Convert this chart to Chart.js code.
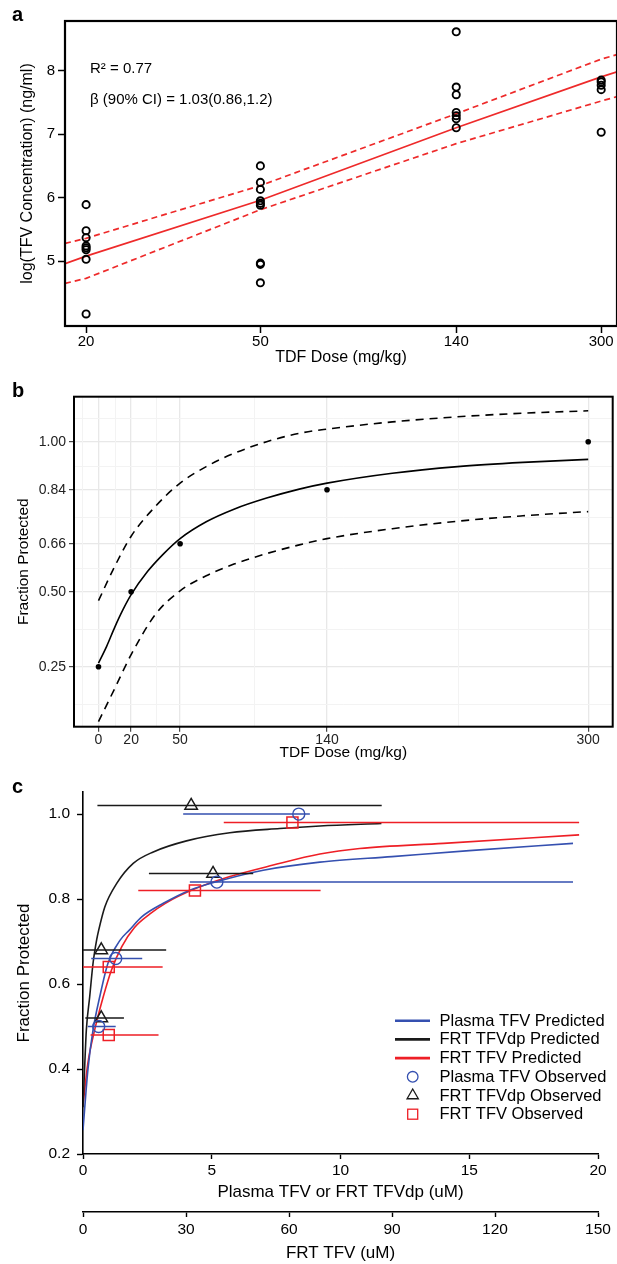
<!DOCTYPE html>
<html>
<head>
<meta charset="utf-8">
<script src="https://cdn.jsdelivr.net/npm/chart.js@4.4.1/dist/chart.umd.min.js"></script>
<style>
  html, body { margin: 0; padding: 0; background: #fff; overflow: hidden; }
  body { width: 617px; height: 1264px; position: relative; font-family: "Liberation Sans", Arial, sans-serif; }
  canvas { position: absolute; left: 0; }
  .letter { position: absolute; left: 12px; font-weight: bold; font-size: 20px; color: #000; }
  .note { position: absolute; left: 90px; font-size: 15px; line-height: 18px; color: #000; white-space: nowrap; }
</style>
</head>
<body>
<canvas id="chartA" width="640" height="370" style="top:0"></canvas>
<canvas id="chartB" width="617" height="400" style="top:370px"></canvas>
<canvas id="chartC" width="617" height="504" style="top:760px"></canvas>
<div class="letter" style="top:3px">a</div>
<div class="letter" style="top:379px">b</div>
<div class="letter" style="top:775px">c</div>
<div class="note" style="top:59px">R² = 0.77</div>
<div class="note" style="top:90px">β (90% CI) = 1.03(0.86,1.2)</div>
<script>
const FONT = '"Liberation Sans", Arial, Helvetica, sans-serif';

// ---- panel a: TFV concentration vs dose ----
const doseGroups = [20, 50, 140, 300];
const conc20 = [5.89, 5.48, 5.37, 5.24, 5.21, 5.18, 5.03, 4.17];
const conc50 = [6.50, 6.24, 6.13, 5.95, 5.91, 5.88, 4.97, 4.95, 4.66];
const conc140 = [8.61, 7.74, 7.62, 7.34, 7.29, 7.24, 7.10];
const conc300 = [7.85, 7.82, 7.77, 7.70, 7.03];
const fitDoseA = [17.9, 20, 50, 140, 300, 326];
const fitMidA = [4.96, 5.08, 5.96, 7.10, 7.90, 7.98];
const fitUpperA = [5.28, 5.36, 6.19, 7.32, 8.18, 8.25];
const fitLowerA = [4.65, 4.73, 5.81, 6.85, 7.52, 7.59];
const xTicksA = [20, 50, 140, 300];
const yTicksA = [5, 6, 7, 8];

// ---- panel b: fraction protected vs dose ----
const doseObsB = [0, 20, 50, 140, 300];
const protObsB = [0.25, 0.50, 0.66, 0.84, 1.00];
const doseFitB = [0, 5, 10, 15, 20, 30, 40, 50, 66, 83, 103, 123, 140, 180, 220, 260, 300];
const protFitB = [0.262, 0.318, 0.382, 0.44, 0.49, 0.567, 0.627, 0.677, 0.733, 0.775, 0.812, 0.842, 0.862, 0.895, 0.917, 0.931, 0.941];
const doseCiB = [0, 10, 20, 35, 50, 66, 83, 103, 123, 140, 180, 220, 260, 300];
const protUpperB = [0.47, 0.585, 0.685, 0.785, 0.862, 0.917, 0.961, 1.0, 1.028, 1.042, 1.066, 1.083, 1.095, 1.103];
const protLowerB = [0.067, 0.178, 0.29, 0.425, 0.503, 0.553, 0.592, 0.627, 0.656, 0.677, 0.71, 0.735, 0.753, 0.767];
const xTicksB = [0, 20, 50, 140, 300];
const yTicksB = [0.25, 0.50, 0.66, 0.84, 1.00];
const xMinorB = [-10, 10, 35, 95, 220];
const yMinorB = [0.125, 0.375, 0.58, 0.75, 0.92, 1.08];

// ---- panel c: fraction protected vs concentration ----
const plasmaFitX = [0, 0.19, 0.39, 0.65, 0.97, 1.45, 1.8, 2.28, 3.12, 4.15, 5.19, 7.0, 9.2, 12, 15, 19.03];
const plasmaFitY = [0.256, 0.398, 0.492, 0.57, 0.649, 0.704, 0.727, 0.758, 0.79, 0.821, 0.841, 0.868, 0.887, 0.9, 0.914, 0.931];
const dpFitX = [0, 0.07, 0.13, 0.26, 0.39, 0.53, 0.61, 0.85, 1.31, 1.95, 2.73, 4.02, 5.7, 7.64, 9.2, 11.59];
const dpFitY = [0.31, 0.413, 0.492, 0.57, 0.649, 0.704, 0.727, 0.782, 0.837, 0.884, 0.911, 0.937, 0.956, 0.966, 0.972, 0.978];
const frtFitX = [0, 1.4, 3.4, 5.9, 8.3, 11.3, 15, 19.5, 24, 32.6, 42.8, 55.4, 69, 80.6, 105, 144.5];
const frtFitY = [0.315, 0.413, 0.492, 0.57, 0.633, 0.688, 0.733, 0.765, 0.79, 0.824, 0.853, 0.88, 0.906, 0.919, 0.931, 0.951];

const plasmaObsX = [8.38, 5.2, 1.27, 0.61];
const plasmaObsY = [1.0, 0.84, 0.66, 0.50];
const plasmaLo = [3.89, 4.15, 0.32, 0.19];
const plasmaHi = [8.81, 19.03, 2.3, 1.27];
const dpObsX = [4.2, 5.05, 0.71, 0.71];
const dpObsY = [1.02, 0.86, 0.68, 0.52];
const dpLo = [0.56, 2.56, 0.0, 0.09];
const dpHi = [11.6, 6.61, 3.23, 1.59];
const frtObsX = [61, 32.6, 7.5, 7.5];
const frtObsY = [0.98, 0.82, 0.64, 0.48];
const frtLo = [41, 16.1, 0, 2.2];
const frtHi = [144.5, 69.2, 23.2, 22.0];

const xTicksC = [0, 5, 10, 15, 20];
const x2TicksC = [0, 30, 60, 90, 120, 150];
const yTicksC = [0.2, 0.4, 0.6, 0.8, 1.0];
const legendLabelsC = ['Plasma TFV Predicted', 'FRT TFVdp Predicted', 'FRT TFV Predicted',
  'Plasma TFV Observed', 'FRT TFVdp Observed', 'FRT TFV Observed'];

const BLUE = '#3550b0';
const RED = '#ee1f26';
const DARK = '#1a1a1a';
const RED_A = '#ee2a2a';

function zip(xs, ys) {
  return xs.map((x, i) => ({ x: x, y: ys[i] }));
}

function barSegments(lo, hi, ys) {
  const pts = [];
  ys.forEach((y, i) => {
    pts.push({ x: lo[i], y: y }, { x: hi[i], y: y }, { x: hi[i], y: null });
  });
  return pts;
}

function fixedTicks(values) {
  return (scale) => { scale.ticks = values.map((v) => ({ value: v })); };
}

const boxPlugin = {
  id: 'box',
  afterDraw(chart, args, opts) {
    const { left, top, right, bottom } = chart.chartArea;
    const ctx = chart.ctx;
    ctx.save();
    ctx.strokeStyle = opts.color || '#000';
    ctx.lineWidth = opts.width || 2;
    ctx.strokeRect(left, top, right - left, bottom - top);
    ctx.restore();
  },
};

const minorGrid = {
  id: 'minorGrid',
  beforeDatasetsDraw(chart) {
    const { left, top, right, bottom } = chart.chartArea;
    const ctx = chart.ctx;
    const sx = chart.scales.x;
    const sy = chart.scales.y;
    ctx.save();
    ctx.strokeStyle = '#f3f3f3';
    ctx.lineWidth = 1;
    xMinorB.forEach((v) => {
      const px = Math.round(sx.getPixelForValue(v)) + 0.5;
      ctx.beginPath(); ctx.moveTo(px, top); ctx.lineTo(px, bottom); ctx.stroke();
    });
    yMinorB.forEach((v) => {
      const py = Math.round(sy.getPixelForValue(v)) + 0.5;
      ctx.beginPath(); ctx.moveTo(left, py); ctx.lineTo(right, py); ctx.stroke();
    });
    ctx.restore();
  },
};

const legendC = {
  id: 'legendC',
  afterDraw(chart) {
    const ctx = chart.ctx;
    const lineX0 = 395, lineX1 = 430, markX = 412.7, textX = 439.5;
    const y0 = 260.7, step = 18.7;
    ctx.save();
    ctx.font = '16.5px ' + FONT;
    ctx.textBaseline = 'middle';
    ctx.textAlign = 'left';
    const lineColors = [BLUE, DARK, RED];
    legendLabelsC.forEach((label, i) => {
      const y = y0 + i * step;
      if (i < 3) {
        ctx.strokeStyle = lineColors[i];
        ctx.lineWidth = 2.6;
        ctx.beginPath(); ctx.moveTo(lineX0, y); ctx.lineTo(lineX1, y); ctx.stroke();
      } else if (i === 3) {
        ctx.strokeStyle = BLUE; ctx.lineWidth = 1.3;
        ctx.beginPath(); ctx.arc(markX, y, 5.3, 0, Math.PI * 2); ctx.stroke();
      } else if (i === 4) {
        ctx.strokeStyle = DARK; ctx.lineWidth = 1.3;
        const r = 6.5;
        ctx.beginPath();
        ctx.moveTo(markX, y - r);
        ctx.lineTo(markX + r * 0.866, y + r * 0.5);
        ctx.lineTo(markX - r * 0.866, y + r * 0.5);
        ctx.closePath(); ctx.stroke();
      } else {
        ctx.strokeStyle = RED; ctx.lineWidth = 1.3;
        ctx.strokeRect(markX - 5, y - 5, 10, 10);
      }
      ctx.fillStyle = '#000';
      ctx.fillText(label, textX, y + 0.5);
    });
    ctx.restore();
  },
};

const baseOpts = {
  responsive: false,
  animation: false,
  events: [],
};

// ---------------- chart a ----------------
const scatterA = [];
[conc20, conc50, conc140, conc300].forEach((group, i) => {
  group.forEach((c) => scatterA.push({ x: doseGroups[i], y: c }));
});

new Chart(document.getElementById('chartA'), {
  type: 'scatter',
  data: {
    datasets: [
      {
        data: scatterA, pointStyle: 'circle', pointRadius: 3.6, borderWidth: 1.9,
        borderColor: '#000', backgroundColor: 'rgba(0,0,0,0)', order: 0,
      },
      {
        data: zip(fitDoseA, fitMidA), showLine: true, pointRadius: 0,
        borderColor: RED_A, borderWidth: 1.7, order: 1,
      },
      {
        data: zip(fitDoseA, fitUpperA), showLine: true, pointRadius: 0,
        borderColor: RED_A, borderWidth: 1.7, borderDash: [6, 4], order: 2,
      },
      {
        data: zip(fitDoseA, fitLowerA), showLine: true, pointRadius: 0,
        borderColor: RED_A, borderWidth: 1.7, borderDash: [6, 4], order: 3,
      },
    ],
  },
  options: {
    ...baseOpts,
    layout: { padding: { top: 21, right: 23, bottom: 0, left: 0 } },
    plugins: { legend: { display: false }, tooltip: { enabled: false }, box: { width: 2.2 } },
    scales: {
      x: {
        type: 'logarithmic', min: 17.9, max: 326,
        afterBuildTicks: fixedTicks(xTicksA),
        afterFit: (s) => { s.height = 44; },
        ticks: { color: '#000', font: { family: FONT, size: 15 }, padding: 0, maxRotation: 0, autoSkip: false, callback: (v) => String(v) },
        grid: { display: true, drawOnChartArea: false, drawTicks: true, tickLength: 7, tickColor: '#000', tickWidth: 1.5 },
        border: { display: false },
        title: { display: true, text: 'TDF Dose (mg/kg)', color: '#000', font: { family: FONT, size: 16 }, padding: { top: 0, bottom: 3 } },
      },
      y: {
        type: 'linear', min: 3.98, max: 8.78,
        afterBuildTicks: fixedTicks(yTicksA),
        afterFit: (s) => { s.width = 65; },
        ticks: { color: '#000', font: { family: FONT, size: 15 }, padding: 3, callback: (v) => String(v) },
        grid: { display: true, drawOnChartArea: false, drawTicks: true, tickLength: 7, tickColor: '#000', tickWidth: 1.5 },
        border: { display: false },
        title: { display: true, text: 'log(TFV Concentration) (ng/ml)', color: '#000', font: { family: FONT, size: 16 }, padding: { top: 18, bottom: 0 } },
      },
    },
  },
  plugins: [boxPlugin],
});

// ---------------- chart b ----------------
new Chart(document.getElementById('chartB'), {
  type: 'scatter',
  data: {
    datasets: [
      {
        data: zip(doseObsB, protObsB), pointStyle: 'circle', pointRadius: 2.8,
        backgroundColor: '#000', borderColor: '#000', borderWidth: 0, order: 0,
      },
      {
        data: zip(doseFitB, protFitB), showLine: true, pointRadius: 0,
        borderColor: '#000', borderWidth: 1.6, cubicInterpolationMode: 'monotone', order: 1,
      },
      {
        data: zip(doseCiB, protUpperB), showLine: true, pointRadius: 0,
        borderColor: '#000', borderWidth: 1.6, borderDash: [8, 6], cubicInterpolationMode: 'monotone', order: 2,
      },
      {
        data: zip(doseCiB, protLowerB), showLine: true, pointRadius: 0,
        borderColor: '#000', borderWidth: 1.6, borderDash: [8, 6], cubicInterpolationMode: 'monotone', order: 3,
      },
    ],
  },
  options: {
    ...baseOpts,
    layout: { padding: { top: 26.7, right: 4.3, bottom: 0, left: 0 } },
    plugins: { legend: { display: false }, tooltip: { enabled: false }, box: { width: 2 } },
    scales: {
      x: {
        type: 'linear', min: -15, max: 315,
        afterBuildTicks: fixedTicks(xTicksB),
        afterFit: (s) => { s.height = 43.3; },
        ticks: { color: '#222', font: { family: FONT, size: 14 }, padding: 0, maxRotation: 0, autoSkip: false, callback: (v) => String(v) },
        grid: { display: true, drawOnChartArea: true, color: '#e8e8e8', lineWidth: 1.3, drawTicks: true, tickLength: 5, tickColor: '#333', tickWidth: 1.1 },
        border: { display: false },
        title: { display: true, text: 'TDF Dose (mg/kg)', color: '#000', font: { family: FONT, size: 15.5 }, padding: { top: 0, bottom: 8 } },
      },
      y: {
        type: 'linear', min: 0.05, max: 1.15,
        afterBuildTicks: fixedTicks(yTicksB),
        afterFit: (s) => { s.width = 74; },
        ticks: { color: '#222', font: { family: FONT, size: 14 }, padding: 3, callback: (v) => v.toFixed(2) },
        grid: { display: true, drawOnChartArea: true, color: '#e8e8e8', lineWidth: 1.3, drawTicks: true, tickLength: 5, tickColor: '#333', tickWidth: 1.1 },
        border: { display: false },
        title: { display: true, text: 'Fraction Protected', color: '#000', font: { family: FONT, size: 15.5 }, padding: { top: 14, bottom: 0 } },
      },
    },
  },
  plugins: [minorGrid, boxPlugin],
});

// ---------------- chart c ----------------
new Chart(document.getElementById('chartC'), {
  type: 'scatter',
  data: {
    datasets: [
      {
        data: zip(plasmaObsX, plasmaObsY), pointStyle: 'circle', pointRadius: 6,
        borderColor: BLUE, borderWidth: 1.4, backgroundColor: 'rgba(0,0,0,0)', order: 0,
      },
      {
        data: zip(dpObsX, dpObsY), pointStyle: 'triangle', pointRadius: 7.2,
        borderColor: DARK, borderWidth: 1.5, backgroundColor: 'rgba(0,0,0,0)', order: 0,
      },
      {
        data: zip(frtObsX, frtObsY), xAxisID: 'x2', pointStyle: 'rect', pointRadius: 7.8,
        borderColor: RED, borderWidth: 1.5, backgroundColor: 'rgba(0,0,0,0)', order: 0,
      },
      {
        data: barSegments(plasmaLo, plasmaHi, plasmaObsY), showLine: true, spanGaps: false,
        pointRadius: 0, borderColor: BLUE, borderWidth: 1.5, order: 1,
      },
      {
        data: barSegments(dpLo, dpHi, dpObsY), showLine: true, spanGaps: false,
        pointRadius: 0, borderColor: DARK, borderWidth: 1.5, order: 1,
      },
      {
        data: barSegments(frtLo, frtHi, frtObsY), xAxisID: 'x2', showLine: true, spanGaps: false,
        pointRadius: 0, borderColor: RED, borderWidth: 1.5, order: 1,
      },
      {
        data: zip(plasmaFitX, plasmaFitY), showLine: true, pointRadius: 0,
        borderColor: BLUE, borderWidth: 1.6, cubicInterpolationMode: 'monotone', order: 2,
      },
      {
        data: zip(dpFitX, dpFitY), showLine: true, pointRadius: 0,
        borderColor: DARK, borderWidth: 1.6, cubicInterpolationMode: 'monotone', order: 2,
      },
      {
        data: zip(frtFitX, frtFitY), xAxisID: 'x2', showLine: true, pointRadius: 0,
        borderColor: RED, borderWidth: 1.6, cubicInterpolationMode: 'monotone', order: 2,
      },
    ],
  },
  options: {
    ...baseOpts,
    layout: { padding: { top: 32, right: 19, bottom: 0, left: 0 } },
    plugins: { legend: { display: false }, tooltip: { enabled: false } },
    scales: {
      x: {
        type: 'linear', position: 'bottom', weight: 0, min: 0, max: 20,
        afterBuildTicks: fixedTicks(xTicksC),
        afterFit: (s) => { s.height = 58; },
        ticks: { color: '#000', font: { family: FONT, size: 15.5 }, padding: 2, maxRotation: 0, autoSkip: false, callback: (v) => String(v) },
        grid: { display: true, drawOnChartArea: false, drawTicks: true, tickLength: 5, tickColor: '#000', tickWidth: 1.4 },
        border: { display: true, color: '#000', width: 1.6 },
        title: { display: true, text: 'Plasma TFV or FRT TFVdp (uM)', color: '#000', font: { family: FONT, size: 17 }, padding: { top: 0, bottom: 9 } },
      },
      x2: {
        type: 'linear', position: 'bottom', weight: 1, min: 0, max: 150,
        afterBuildTicks: fixedTicks(x2TicksC),
        afterFit: (s) => { s.height = 52; },
        ticks: { color: '#000', font: { family: FONT, size: 15.5 }, padding: 3, maxRotation: 0, autoSkip: false, callback: (v) => String(v) },
        grid: { display: true, drawOnChartArea: false, drawTicks: true, tickLength: 5, tickColor: '#000', tickWidth: 1.4 },
        border: { display: true, color: '#000', width: 1.6 },
        title: { display: true, text: 'FRT TFV (uM)', color: '#000', font: { family: FONT, size: 17 }, padding: { top: 0, bottom: 0 } },
      },
      y: {
        type: 'linear', min: 0.2, max: 1.052,
        afterBuildTicks: fixedTicks(yTicksC),
        afterFit: (s) => { s.width = 83; },
        ticks: { color: '#000', font: { family: FONT, size: 15.5 }, padding: 7, callback: (v) => v.toFixed(1) },
        grid: { display: true, drawOnChartArea: false, drawTicks: true, tickLength: 6, tickColor: '#000', tickWidth: 1.4 },
        border: { display: true, color: '#000', width: 1.6 },
        title: { display: true, text: 'Fraction Protected', color: '#000', font: { family: FONT, size: 17 }, padding: { top: 14, bottom: 0 } },
      },
    },
  },
  plugins: [legendC],
});
</script>
</body>
</html>
